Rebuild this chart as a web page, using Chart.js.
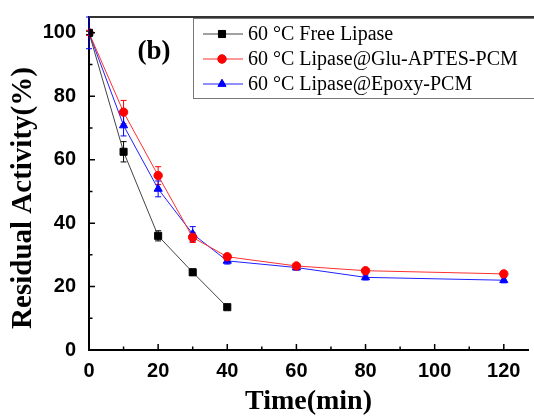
<!DOCTYPE html>
<html>
<head>
<meta charset="utf-8">
<script src="https://cdn.jsdelivr.net/npm/chart.js@4/dist/chart.umd.min.js"></script>
<style>
body { margin: 0; background: #fff; overflow: hidden; }
</style>
</head>
<body>
<canvas id="myChart" width="534" height="419"></canvas>
<script>
// data
const timeFree = [0, 10, 20, 30, 40];
const timeAll = [0, 10, 20, 30, 40, 60, 80, 120];
const freeLipase = [100, 62.5, 36, 24.5, 13.5];
const freeErr = [0.5, 3.2, 1.6, 1, 0.5];
const gluLipase = [100, 75, 55, 35.5, 29.4, 26.5, 25, 24];
const gluErr = [0.8, 3.7, 2.8, 1.6, 0.8, 0.6, 0.6, 0.8];
const epoxyLipase = [100, 70.8, 50.8, 36.6, 28.1, 26, 22.9, 22];
const epoxyErr = [5, 3.3, 2.5, 2.3, 1, 0.8, 0.8, 0.8];
const xTicks = [0, 20, 40, 60, 80, 100, 120];
const yTicks = [0, 20, 40, 60, 80, 100];
const seriesNames = ['60 °C Free Lipase', '60 °C Lipase@Glu-APTES-PCM', '60 °C Lipase@Epoxy-PCM'];

function toPoints(xs, ys) {
    return xs.map(function (x, i) { return { x: x, y: ys[i] }; });
}

function makeSet(name, xs, ys, errs, color, lineColor, style, radius) {
    return {
        label: name,
        data: toPoints(xs, ys),
        errors: errs,
        borderColor: lineColor,
        pointBorderColor: color,
        pointBackgroundColor: color,
        backgroundColor: color,
        borderWidth: 1,
        pointStyle: style,
        pointRadius: radius,
        pointBorderWidth: 1,
        tension: 0
    };
}

// inward ticks (major + minor), top frame, error bars, legend, panel label
const decorPlugin = {
    id: 'decor',
    beforeDatasetsDraw(chart) {
        const ctx = chart.ctx;
        chart.data.datasets.forEach(function (ds, di) {
            const meta = chart.getDatasetMeta(di);
            const ys = chart.scales.y;
            ctx.save();
            ctx.strokeStyle = ds.backgroundColor;
            ctx.lineWidth = 1;
            meta.data.forEach(function (pt, i) {
                const e = ds.errors[i];
                const v = ds.data[i].y;
                const yTop = ys.getPixelForValue(v + e);
                const yBot = ys.getPixelForValue(v - e);
                ctx.beginPath();
                ctx.moveTo(pt.x, yTop); ctx.lineTo(pt.x, yBot);
                ctx.moveTo(pt.x - 3, yTop); ctx.lineTo(pt.x + 3, yTop);
                ctx.moveTo(pt.x - 3, yBot); ctx.lineTo(pt.x + 3, yBot);
                ctx.stroke();
            });
            ctx.restore();
        });
    },
    afterDraw(chart) {
        const ctx = chart.ctx;
        const area = chart.chartArea;
        const xs = chart.scales.x;
        const ys = chart.scales.y;
        ctx.save();
        ctx.strokeStyle = '#000';
        ctx.lineWidth = 1.5;
        ctx.beginPath();
        for (let v = 0; v <= 120; v += 10) {
            const px = xs.getPixelForValue(v);
            const len = v % 20 === 0 ? 6 : 3.5;
            ctx.moveTo(px, area.bottom); ctx.lineTo(px, area.bottom - len);
        }
        for (let v = 0; v <= 100; v += 10) {
            const py = ys.getPixelForValue(v);
            const len = v % 20 === 0 ? 6 : 3.5;
            ctx.moveTo(area.left, py); ctx.lineTo(area.left + len, py);
        }
        ctx.stroke();
        // top frame
        ctx.strokeStyle = '#333';
        ctx.lineWidth = 2;
        ctx.beginPath();
        ctx.moveTo(area.left, area.top); ctx.lineTo(chart.width, area.top);
        ctx.stroke();

        // legend box
        ctx.strokeStyle = '#777';
        ctx.lineWidth = 1;
        ctx.strokeRect(193.5, 18.5, 360, 80);
        const rows = [34, 59, 84];
        ctx.font = '20px "Liberation Serif"';
        ctx.textBaseline = 'middle';
        chart.data.datasets.forEach(function (ds, i) {
            const y = rows[i];
            ctx.strokeStyle = ds.borderColor;
            ctx.lineWidth = 1;
            ctx.beginPath();
            ctx.moveTo(203, y); ctx.lineTo(243, y);
            ctx.stroke();
            ctx.strokeStyle = ds.backgroundColor;
            Chart.helpers.drawPoint(ctx, {
                pointStyle: ds.pointStyle,
                radius: ds.pointRadius,
                borderWidth: 1,
                rotation: 0
            }, 222, y);
            ctx.fillStyle = ds.backgroundColor;
            ctx.fill();
            ctx.fillStyle = '#000';
            ctx.fillText(seriesNames[i], 248, y + 1);
        });

        ctx.font = 'bold 27px "Liberation Serif"';
        ctx.textAlign = 'center';
        ctx.fillStyle = '#000';
        ctx.fillText('(b)', 154, 52);
        ctx.restore();
    }
};

const data = {
    datasets: [
        makeSet(seriesNames[0], timeFree, freeLipase, freeErr, '#000000', '#444444', 'rect', 5),
        makeSet(seriesNames[1], timeAll, gluLipase, gluErr, '#ff0000', '#ff3030', 'circle', 4.2),
        makeSet(seriesNames[2], timeAll, epoxyLipase, epoxyErr, '#0000ff', '#2020ff', 'triangle', 4.7)
    ]
};

const tickFont = { family: 'Liberation Sans', size: 20, weight: 'bold' };

const config = {
    type: 'line',
    data: data,
    options: {
        responsive: false,
        animation: false,
        layout: { padding: { top: 11, right: 0, left: 0, bottom: 0 } },
        plugins: {
            legend: { display: false },
            tooltip: { enabled: false }
        },
        scales: {
            x: {
                type: 'linear',
                min: 0,
                max: 127,
                grid: { display: false },
                border: { color: '#000', width: 2 },
                afterBuildTicks: function (scale) {
                    scale.ticks = xTicks.map(function (v) { return { value: v }; });
                },
                afterFit: function (scale) { scale.height = 69; },
                ticks: { font: tickFont, color: '#000', padding: 1, maxRotation: 0 },
                title: {
                    display: true,
                    text: 'Time(min)',
                    color: '#000',
                    font: { family: 'Liberation Serif', size: 28, weight: 'bold' },
                    padding: { top: 0, bottom: 0 }
                }
            },
            y: {
                min: 0,
                max: 105,
                grid: { display: false },
                border: { color: '#000', width: 2 },
                afterBuildTicks: function (scale) {
                    scale.ticks = yTicks.map(function (v) { return { value: v }; });
                },
                afterFit: function (scale) { scale.width = 89; },
                ticks: { font: tickFont, color: '#000', padding: 5 },
                title: {
                    display: true,
                    // trailing spaces nudge the title down like the original
                    text: 'Residual Activity(%)    ',
                    color: '#000',
                    font: { family: 'Liberation Serif', size: 29, weight: 'bold' },
                    padding: { top: 6, bottom: 0 }
                }
            }
        }
    },
    plugins: [decorPlugin]
};

window.mychart = new Chart(document.getElementById('myChart'), config);
</script>
</body>
</html>
